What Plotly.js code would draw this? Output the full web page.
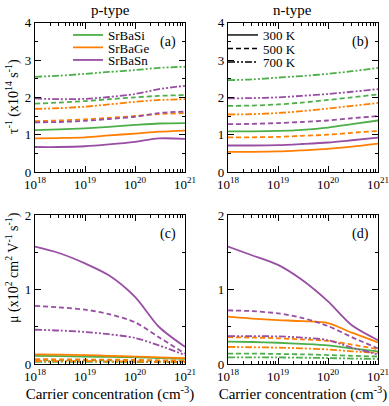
<!DOCTYPE html>
<html>
<head>
<meta charset="utf-8">
<script src="https://cdn.plot.ly/plotly-3.0.1.min.js"></script>
<style>
  html, body { margin: 0; padding: 0; background: #fff; }
  #graph { width: 389px; height: 406px; }
</style>
</head>
<body>
<div id="graph"></div>
<script>
// carrier concentration (cm^-3)
const conc = [1e18, 3e18, 1e19, 3e19, 1e20, 3e20, 1e21];

const compounds = ['SrBaSi', 'SrBaGe', 'SrBaSn'];
const temps = ['300 K', '500 K', '700 K'];

// (a) p-type scattering rate, x10^14 s^-1
const rateP = {
  SrBaSi: [
    [1.12, 1.14, 1.17, 1.21, 1.26, 1.30, 1.31],
    [1.83, 1.86, 1.90, 1.95, 2.00, 2.04, 2.06],
    [2.55, 2.58, 2.63, 2.68, 2.73, 2.79, 2.82]
  ],
  SrBaGe: [
    [0.90, 0.91, 0.93, 0.98, 1.03, 1.08, 1.11],
    [1.36, 1.38, 1.41, 1.45, 1.50, 1.55, 1.58],
    [1.69, 1.71, 1.75, 1.81, 1.88, 1.93, 1.95]
  ],
  SrBaSn: [
    [0.67, 0.67, 0.69, 0.74, 0.81, 0.90, 0.89],
    [1.33, 1.34, 1.37, 1.42, 1.48, 1.58, 1.62],
    [1.97, 1.95, 1.96, 2.01, 2.09, 2.22, 2.31]
  ]
};

// (b) n-type scattering rate
const rateN = {
  SrBaSi: [
    [1.09, 1.09, 1.10, 1.13, 1.19, 1.28, 1.38],
    [1.77, 1.78, 1.81, 1.86, 1.93, 2.00, 2.08],
    [2.46, 2.48, 2.53, 2.57, 2.63, 2.70, 2.79]
  ],
  SrBaGe: [
    [0.54, 0.54, 0.55, 0.58, 0.62, 0.68, 0.76],
    [0.93, 0.93, 0.94, 0.97, 1.00, 1.05, 1.10],
    [1.54, 1.55, 1.58, 1.63, 1.70, 1.77, 1.85]
  ],
  SrBaSn: [
    [0.71, 0.71, 0.72, 0.75, 0.79, 0.85, 0.92],
    [1.28, 1.29, 1.31, 1.34, 1.38, 1.44, 1.50],
    [1.97, 1.98, 2.00, 2.04, 2.09, 2.15, 2.22]
  ]
};

// (c) p-type mobility, x10^2 cm^2 V^-1 s^-1
const mobP = {
  SrBaSi: [
    [0.11, 0.105, 0.10, 0.095, 0.09, 0.08, 0.07],
    [0.055, 0.053, 0.05, 0.048, 0.046, 0.043, 0.04],
    [0.03, 0.03, 0.029, 0.028, 0.027, 0.025, 0.023]
  ],
  SrBaGe: [
    [0.13, 0.125, 0.12, 0.11, 0.10, 0.09, 0.08],
    [0.065, 0.063, 0.06, 0.058, 0.055, 0.05, 0.045],
    [0.04, 0.039, 0.038, 0.036, 0.034, 0.032, 0.03]
  ],
  SrBaSn: [
    [1.575, 1.49, 1.35, 1.19, 0.90, 0.50, 0.23],
    [0.78, 0.76, 0.73, 0.67, 0.56, 0.36, 0.14],
    [0.46, 0.45, 0.43, 0.40, 0.35, 0.25, 0.12]
  ]
};

// (d) n-type mobility
const mobN = {
  SrBaSi: [
    [0.30, 0.295, 0.285, 0.27, 0.25, 0.21, 0.17],
    [0.14, 0.14, 0.135, 0.13, 0.12, 0.11, 0.10],
    [0.09, 0.09, 0.088, 0.085, 0.08, 0.073, 0.067]
  ],
  SrBaGe: [
    [0.635, 0.61, 0.59, 0.575, 0.55, 0.42, 0.29],
    [0.36, 0.355, 0.345, 0.33, 0.31, 0.26, 0.20],
    [0.23, 0.225, 0.22, 0.21, 0.195, 0.17, 0.15]
  ],
  SrBaSn: [
    [1.575, 1.46, 1.33, 1.13, 0.84, 0.52, 0.32],
    [0.72, 0.71, 0.68, 0.62, 0.51, 0.36, 0.21],
    [0.375, 0.375, 0.37, 0.355, 0.32, 0.22, 0.13]
  ]
};

const xTickVals = [1e18, 1e19, 1e20, 1e21];
const xTickText = ['10<sup>18</sup>', '10<sup>19</sup>', '10<sup>20</sup>', '10<sup>21</sup>'];

const colors = { SrBaSi: '#4daf4a', SrBaGe: '#ff7f00', SrBaSn: '#984ea3' };
const dashes = ['solid', '5px,3px', '7px,2px,2px,2px,2px,2px'];

const FONT = 'Liberation Serif, Times New Roman, serif';
const W = 389;
const H = 406;

const panels = [
  { data: rateP, xa: 'x', ya: 'y' },
  { data: rateN, xa: 'x2', ya: 'y2' },
  { data: mobP, xa: 'x3', ya: 'y3' },
  { data: mobN, xa: 'x4', ya: 'y4' }
];

// one single-entry legend per key row, so the rows sit as tight as in the figure
const compoundLegends = ['legend', 'legend2', 'legend3'];
const tempLegends = ['legend4', 'legend5', 'legend6'];

function buildTraces() {
  const traces = [];
  panels.forEach((panel, p) => {
    compounds.forEach((name, c) => {
      panel.data[name].forEach((values, t) => {
        traces.push({
          type: 'scatter',
          mode: 'lines',
          x: conc,
          y: values,
          xaxis: panel.xa,
          yaxis: panel.ya,
          name,
          showlegend: p === 0 && t === 0,
          legend: compoundLegends[c],
          line: { color: colors[name], width: 1.8, dash: dashes[t], shape: 'spline', smoothing: 0.8 }
        });
      });
    });
  });
  // temperature key in panel (b)
  temps.forEach((label, t) => {
    traces.push({
      type: 'scatter',
      mode: 'lines',
      x: [null],
      y: [null],
      xaxis: 'x2',
      yaxis: 'y2',
      name: label,
      legend: tempLegends[t],
      line: { color: '#000', width: 1.4, dash: dashes[t] }
    });
  });
  return traces;
}

function minorLogTicks() {
  const vals = [];
  for (let e = 18; e < 21; e += 1) {
    for (let d = 2; d <= 9; d += 1) vals.push(d * Math.pow(10, e));
  }
  return vals;
}

function xAxis(domain, anchor, withTitle) {
  return {
    type: 'log',
    domain,
    anchor,
    range: [18, 21],
    tickmode: 'array',
    tickvals: xTickVals,
    ticktext: xTickText,
    ticks: 'inside',
    ticklen: 6,
    tickcolor: '#000',
    ticklabeloverflow: 'allow',
    showline: true,
    linecolor: '#000',
    linewidth: 1.2,
    mirror: 'allticks',
    showgrid: false,
    zeroline: false,
    tickfont: { family: FONT, size: 13, color: '#000' },
    minor: { tickvals: minorLogTicks(), ticks: 'inside', ticklen: 3, tickcolor: '#000', showgrid: false },
    title: withTitle
      ? { text: 'Carrier concentration (cm<sup>-3</sup>)', font: { family: FONT, size: 15, color: '#000' }, standoff: 5 }
      : { text: '' }
  };
}

function yAxis(domain, anchor, range) {
  return {
    domain,
    anchor,
    range,
    dtick: 1,
    ticks: 'inside',
    ticklen: 6,
    tickcolor: '#000',
    showline: true,
    linecolor: '#000',
    linewidth: 1.2,
    mirror: 'allticks',
    showgrid: false,
    zeroline: false,
    tickfont: { family: FONT, size: 13, color: '#000' },
    minor: { dtick: 0.5, ticks: 'inside', ticklen: 3, tickcolor: '#000', showgrid: false }
  };
}

const leftDom = [35 / W, 185 / W];
const rightDom = [228 / W, 378 / W];
const topDom = [1 - 172 / H, 1 - 22.7 / H];
const botDom = [1 - 364 / H, 1 - 215 / H];

function panelLabel(text, xref, yref) {
  return {
    text, xref: xref + ' domain', yref: yref + ' domain', x: 0.95, y: 0.94,
    xanchor: 'right', yanchor: 'top', showarrow: false,
    font: { family: FONT, size: 14, color: '#000' }
  };
}

function keyLegend(xPx, yPx) {
  return {
    x: xPx / W, y: 1 - yPx / H, xanchor: 'left', yanchor: 'middle',
    bgcolor: 'rgba(0,0,0,0)', borderwidth: 0, itemwidth: 30,
    font: { family: FONT, size: 13, color: '#000' }
  };
}

function textNote(text, xPx, yPx, size, angle) {
  return {
    text, xref: 'paper', yref: 'paper', x: xPx / W, y: 1 - yPx / H,
    xanchor: 'center', yanchor: 'middle', showarrow: false, textangle: angle || 0,
    font: { family: FONT, size, color: '#000' }
  };
}

const layout = {
  width: W,
  height: H,
  margin: { l: 0, r: 0, t: 0, b: 0 },
  paper_bgcolor: '#fff',
  plot_bgcolor: '#fff',
  font: { family: FONT, color: '#000' },
  xaxis: xAxis(leftDom, 'y', false),
  yaxis: yAxis(topDom, 'x', [0, 4]),
  xaxis2: xAxis(rightDom, 'y2', false),
  yaxis2: yAxis(topDom, 'x2', [0, 4]),
  xaxis3: xAxis(leftDom, 'y3', true),
  yaxis3: yAxis(botDom, 'x3', [0, 2]),
  xaxis4: xAxis(rightDom, 'y4', true),
  yaxis4: yAxis(botDom, 'x4', [0, 2]),
  legend: keyLegend(68, 35),
  legend2: keyLegend(68, 47.5),
  legend3: keyLegend(68, 60),
  legend4: keyLegend(223, 35),
  legend5: keyLegend(223, 48.5),
  legend6: keyLegend(223, 62),
  annotations: [
    textNote('p-type', 110, 10, 15),
    textNote('n-type', 292, 10, 15),
    textNote('\u03c4<sup>-1</sup> (x10<sup>14</sup> s<sup>-1</sup>)', 12, 97, 14, -90),
    textNote('\u03bc (x10<sup>2</sup> cm<sup>2</sup> V<sup>-1</sup> s<sup>-1</sup>)', 12, 268, 14, -90),
    panelLabel('(a)', 'x', 'y'),
    panelLabel('(b)', 'x2', 'y2'),
    panelLabel('(c)', 'x3', 'y3'),
    panelLabel('(d)', 'x4', 'y4')
  ]
};

Plotly.newPlot('graph', buildTraces(), layout, { staticPlot: true, displayModeBar: false });
</script>
</body>
</html>
